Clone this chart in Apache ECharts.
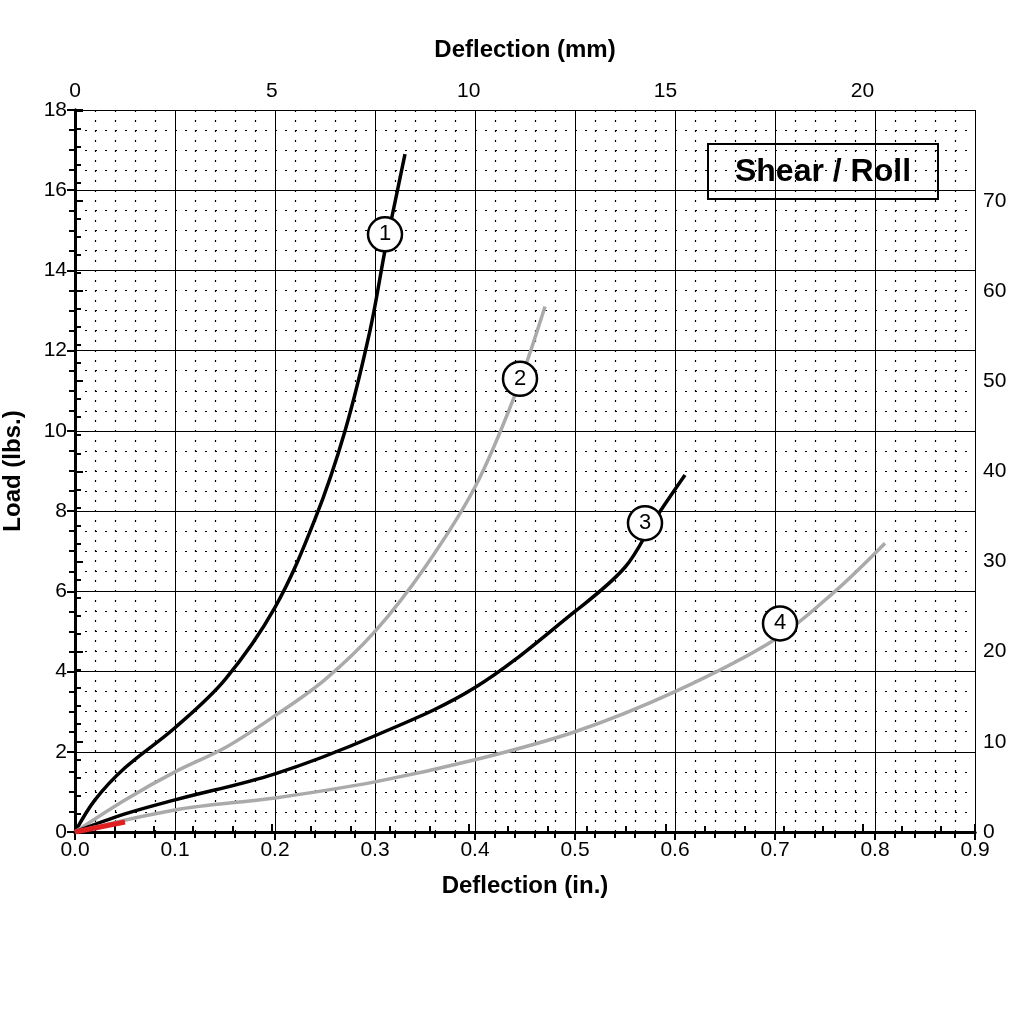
<!DOCTYPE html>
<html><head><meta charset="utf-8">
<script src="https://cdn.jsdelivr.net/npm/echarts@6/dist/echarts.min.js"></script>
<style>html,body{margin:0;background:#fff}#chart{width:1024px;height:1024px}</style>
</head><body><div id="chart"></div>
<script>
// deflection (in.), load (lbs.)
const curve1 = [[0,0],[0.02,0.8],[0.05,1.6],[0.1,2.6],[0.15,3.8],[0.2,5.6],[0.24,7.8],[0.27,10],[0.295,12.5],[0.31,14.5],[0.32,15.7],[0.33,16.9]];
const curve2 = [[0,0],[0.05,0.8],[0.1,1.5],[0.15,2.1],[0.2,2.9],[0.25,3.8],[0.3,5.0],[0.35,6.6],[0.4,8.6],[0.44,10.9],[0.47,13.1]];
const curve3 = [[0,0],[0.05,0.45],[0.1,0.8],[0.2,1.45],[0.3,2.4],[0.4,3.6],[0.5,5.5],[0.55,6.6],[0.58,7.8],[0.61,8.9]];
const curve4 = [[0,0],[0.1,0.55],[0.2,0.85],[0.3,1.25],[0.4,1.8],[0.5,2.5],[0.6,3.5],[0.7,4.8],[0.76,6.0],[0.81,7.2]];
const redStart = [[0,0],[0.05,0.25]];
const curveLabels = [[0.31,14.9,'1'],[0.445,11.3,'2'],[0.57,7.7,'3'],[0.705,5.2,'4']];

const font = 'Liberation Sans, Arial, sans-serif';
const chart = echarts.init(document.getElementById('chart'));
const line = (data, color, w) => ({type:'line', data, smooth:0.35, showSymbol:false, lineStyle:{color, width:w}, z:3});
const tickStyle = {lineStyle:{color:'#000', width:2}};
chart.setOption({
  animation:false,
  grid:{left:75, right:49, top:110, bottom:192, containLabel:false, outerBoundsMode:'none'},
  xAxis:[
    {type:'value', position:'bottom', min:0, max:0.9, interval:0.1,
     name:'Deflection (in.)', nameLocation:'middle', nameGap:42,
     nameTextStyle:{fontFamily:font, fontSize:24, fontWeight:'bold', color:'#000'},
     axisLine:{lineStyle:{color:'#000', width:3}},
     axisTick:{length:8, ...tickStyle}, minorTick:{show:true, splitNumber:5, length:6, ...tickStyle},
     axisLabel:{fontFamily:font, fontSize:21, color:'#000', formatter:v=>v.toFixed(1)},
     splitLine:{lineStyle:{color:'#000', width:1}},
     minorSplitLine:{show:true, lineStyle:{color:'#000', width:1.2, type:[2,8]}}},
    {type:'value', position:'top', min:0, max:0.9*25.4, interval:5,
     name:'Deflection (mm)', nameLocation:'middle', nameGap:48,
     nameTextStyle:{fontFamily:font, fontSize:24, fontWeight:'bold', color:'#000'},
     axisLine:{lineStyle:{color:'#000', width:3}},
     axisTick:{length:8, ...tickStyle}, minorTick:{show:true, splitNumber:5, length:6, ...tickStyle},
     axisLabel:{fontFamily:font, fontSize:21, color:'#000', formatter:v=>v>21?'':v},
     splitLine:{show:false}}
  ],
  yAxis:[
    {type:'value', position:'left', min:0, max:18, interval:2,
     name:'Load (lbs.)', nameLocation:'middle', nameGap:50, nameRotate:90,
     nameTextStyle:{fontFamily:font, fontSize:24, fontWeight:'bold', color:'#000'},
     axisLine:{lineStyle:{color:'#000', width:3}},
     axisTick:{length:8, ...tickStyle}, minorTick:{show:true, splitNumber:4, length:6, ...tickStyle},
     axisLabel:{fontFamily:font, fontSize:21, color:'#000'},
     splitLine:{lineStyle:{color:'#000', width:1}},
     minorSplitLine:{show:true, lineStyle:{color:'#000', width:1.2, type:[2,8]}}},
    {type:'value', position:'right', min:0, max:18*4.44822, interval:10,
     axisLine:{lineStyle:{color:'#000', width:3}},
     axisTick:{length:8, ...tickStyle}, minorTick:{show:true, splitNumber:5, length:6, ...tickStyle},
     axisLabel:{fontFamily:font, fontSize:21, color:'#000', formatter:v=>v>75?'':v},
     splitLine:{show:false}}
  ],
  series:[
    line(curve1,'#000',3.5), line(curve2,'#aaa',3.5), line(curve3,'#000',3.5), line(curve4,'#aaa',3.5),
    line(redStart,'#e02020',5),
    {type:'scatter', data:curveLabels, symbol:'circle', symbolSize:34, z:5,
     itemStyle:{color:'#fff', borderColor:'#000', borderWidth:2.5, opacity:1},
     label:{show:true, position:'inside', formatter:p=>p.value[2], fontFamily:font, fontSize:22, color:'#000'}}
  ],
  graphic:[{type:'group', left:707, top:143, children:[
    {type:'rect', shape:{x:0,y:0,width:230,height:55}, style:{fill:'#fff', stroke:'#000', lineWidth:2}},
    {type:'text', style:{x:115, y:28, text:'Shear / Roll', align:'center', verticalAlign:'middle', font:'bold 32px Liberation Sans, Arial, sans-serif', fill:'#000'}}
  ]}]
});
</script></body></html>
